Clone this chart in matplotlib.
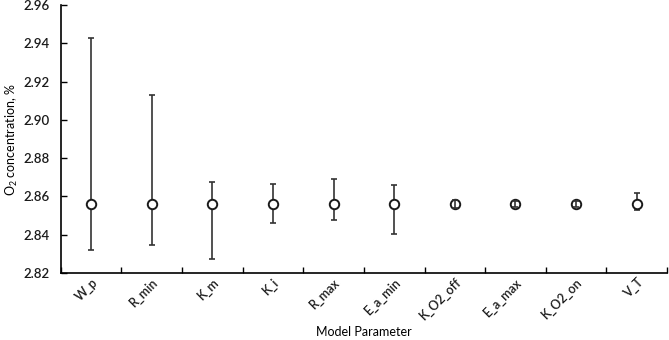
import numpy as np
import matplotlib.pyplot as plt

plt.rcParams['font.family'] = ['Lato', 'DejaVu Sans']
plt.rcParams['mathtext.fontset'] = 'custom'
plt.rcParams['mathtext.rm'] = 'Lato'

params = ['W_p', 'R_min', 'K_m', 'K_i', 'R_max', 'E_a_min',
          'K_O2_off', 'E_a_max', 'K_O2_on', 'V_T']
center = [2.856, 2.856, 2.856, 2.856, 2.856, 2.856, 2.856, 2.856, 2.856, 2.856]
upper = [2.943, 2.913, 2.8677, 2.8663, 2.869, 2.866, 2.858, 2.8575, 2.8575, 2.8616]
lower = [2.832, 2.8345, 2.8273, 2.8463, 2.8475, 2.8403, 2.854, 2.8545, 2.8545, 2.853]

center = np.array(center)
err = np.array([center - np.array(lower), np.array(upper) - center])
x = np.arange(len(params)) + 0.5

fig = plt.figure(figsize=(6.69, 3.40), dpi=100)
ax = fig.add_axes([0.091, 0.197, 0.906, 0.788])

# wide bars sit behind the white markers, tiny ones show through on top
small = err.max(axis=0) < 0.003
ax.errorbar(x[~small], center[~small], yerr=err[:, ~small], fmt='none',
            ecolor='#333333', elinewidth=1.2, capsize=2.5, capthick=1.2, zorder=2)
ax.plot(x, center, 'o', mfc='white', mec='#1a1a1a', mew=1.4, ms=6.8,
        linestyle='none', zorder=3)
ax.errorbar(x[small], center[small], yerr=err[:, small], fmt='none',
            ecolor='#333333', elinewidth=1.2, capsize=2.5, capthick=1.2, zorder=4)

ax.set_xlim(0, len(params))
ax.set_ylim(2.82, 2.96)
ax.set_yticks(np.arange(2.82, 2.9601, 0.02))
ax.yaxis.set_major_formatter(plt.FormatStrFormatter('%.2f'))

ax.set_xticks(x)
ax.set_xticklabels(params, rotation=45, ha='right', rotation_mode='anchor')
ax.set_xticks(np.arange(0, len(params) + 1), minor=True)
ax.tick_params(axis='x', which='major', length=0, pad=2, labelsize=9,
               labelcolor='#1a1a1a')
ax.tick_params(axis='x', which='minor', direction='in', length=4, width=1)
ax.tick_params(axis='y', direction='in', length=4, width=1, labelsize=9.5,
               pad=8, labelcolor='#1a1a1a')
for lbl in ax.get_xticklabels() + ax.get_yticklabels():
    lbl.set_fontweight('semibold')

for s in ['top', 'right']:
    ax.spines[s].set_visible(False)
for s in ['left', 'bottom']:
    ax.spines[s].set_linewidth(1.2)

fig.text(12 / 669, 1 - 140 / 340, r'O$_2$ concentration, %', fontsize=9,
         rotation=90, ha='center', va='center')
fig.text(364 / 669, 1 - 332 / 340, 'Model Parameter', fontsize=9,
         ha='center', va='center')

fig.savefig('out.png', dpi=100)
